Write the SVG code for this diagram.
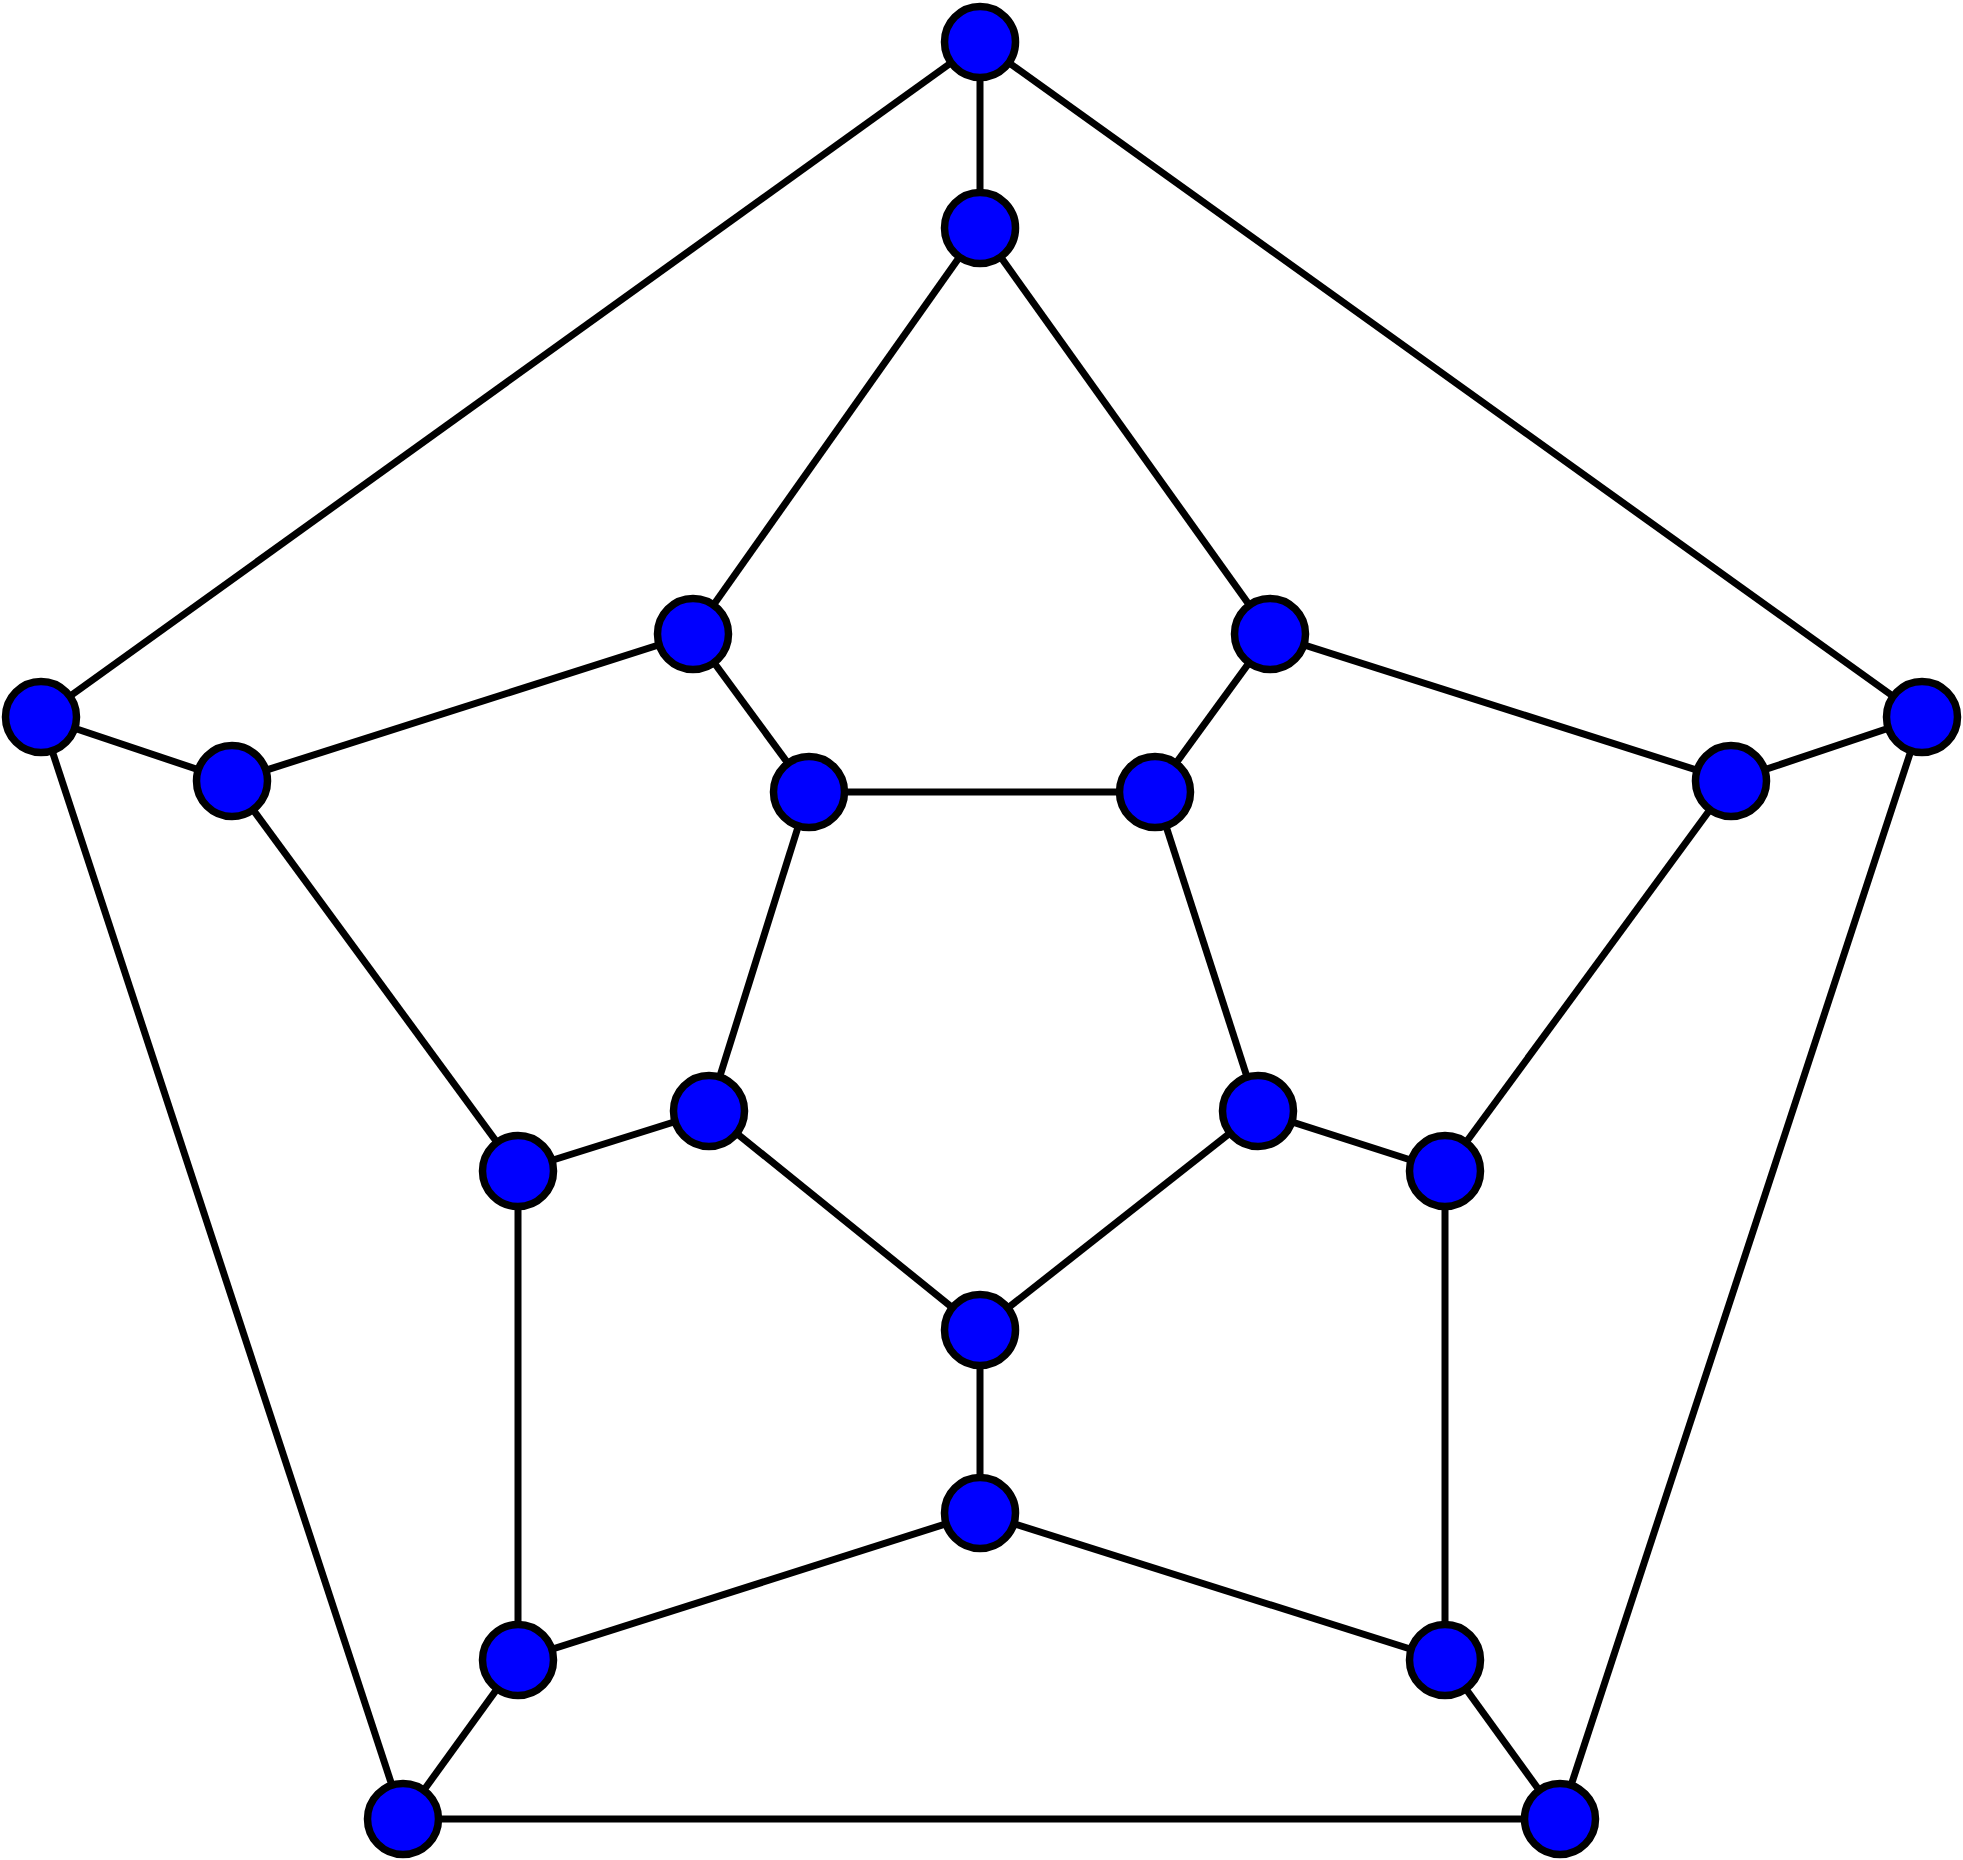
<svg xmlns="http://www.w3.org/2000/svg" width="1963" height="1860" viewBox="0 0 1963 1860">
<style>
.e{stroke:#000;stroke-width:7;fill:none}
.n{fill:#0000ff;stroke:#000;stroke-width:7.5}
</style>
<rect width="1963" height="1860" fill="#fff"/>
<g id="edges" class="e">
<line x1="980" y1="42" x2="980" y2="228"/>
<line x1="980" y1="42" x2="41" y2="717"/>
<line x1="980" y1="42" x2="1922" y2="717"/>
<line x1="980" y1="228" x2="693" y2="634"/>
<line x1="980" y1="228" x2="1270" y2="634"/>
<line x1="693" y1="634" x2="232" y2="781"/>
<line x1="693" y1="634" x2="809" y2="792"/>
<line x1="1270" y1="634" x2="1731" y2="781"/>
<line x1="1270" y1="634" x2="1155" y2="792"/>
<line x1="41" y1="717" x2="232" y2="781"/>
<line x1="41" y1="717" x2="403" y2="1819"/>
<line x1="1922" y1="717" x2="1731" y2="781"/>
<line x1="1922" y1="717" x2="1560" y2="1819"/>
<line x1="232" y1="781" x2="518" y2="1171"/>
<line x1="1731" y1="781" x2="1445" y2="1171"/>
<line x1="809" y1="792" x2="1155" y2="792"/>
<line x1="809" y1="792" x2="709" y2="1111"/>
<line x1="1155" y1="792" x2="1258" y2="1111"/>
<line x1="709" y1="1111" x2="518" y2="1171"/>
<line x1="709" y1="1111" x2="980" y2="1330"/>
<line x1="1258" y1="1111" x2="1445" y2="1171"/>
<line x1="1258" y1="1111" x2="980" y2="1330"/>
<line x1="518" y1="1171" x2="518" y2="1660"/>
<line x1="1445" y1="1171" x2="1445" y2="1660"/>
<line x1="980" y1="1330" x2="980" y2="1513"/>
<line x1="980" y1="1513" x2="518" y2="1660"/>
<line x1="980" y1="1513" x2="1445" y2="1660"/>
<line x1="518" y1="1660" x2="403" y2="1819"/>
<line x1="1445" y1="1660" x2="1560" y2="1819"/>
<line x1="403" y1="1819" x2="1560" y2="1819"/>
</g>
<g id="n1"><circle class="n" cx="980" cy="42" r="35.5"/></g>
<g id="n2"><circle class="n" cx="980" cy="228" r="35.5"/></g>
<g id="n3"><circle class="n" cx="693" cy="634" r="35.5"/></g>
<g id="n4"><circle class="n" cx="1270" cy="634" r="35.5"/></g>
<g id="n5"><circle class="n" cx="41" cy="717" r="35.5"/></g>
<g id="n6"><circle class="n" cx="1922" cy="717" r="35.5"/></g>
<g id="n7"><circle class="n" cx="232" cy="781" r="35.5"/></g>
<g id="n8"><circle class="n" cx="1731" cy="781" r="35.5"/></g>
<g id="n9"><circle class="n" cx="809" cy="792" r="35.5"/></g>
<g id="n10"><circle class="n" cx="1155" cy="792" r="35.5"/></g>
<g id="n11"><circle class="n" cx="709" cy="1111" r="35.5"/></g>
<g id="n12"><circle class="n" cx="1258" cy="1111" r="35.5"/></g>
<g id="n13"><circle class="n" cx="518" cy="1171" r="35.5"/></g>
<g id="n14"><circle class="n" cx="1445" cy="1171" r="35.5"/></g>
<g id="n15"><circle class="n" cx="980" cy="1330" r="35.5"/></g>
<g id="n16"><circle class="n" cx="980" cy="1513" r="35.5"/></g>
<g id="n17"><circle class="n" cx="518" cy="1660" r="35.5"/></g>
<g id="n18"><circle class="n" cx="1445" cy="1660" r="35.5"/></g>
<g id="n19"><circle class="n" cx="403" cy="1819" r="35.5"/></g>
<g id="n20"><circle class="n" cx="1560" cy="1819" r="35.5"/></g>
</svg>
